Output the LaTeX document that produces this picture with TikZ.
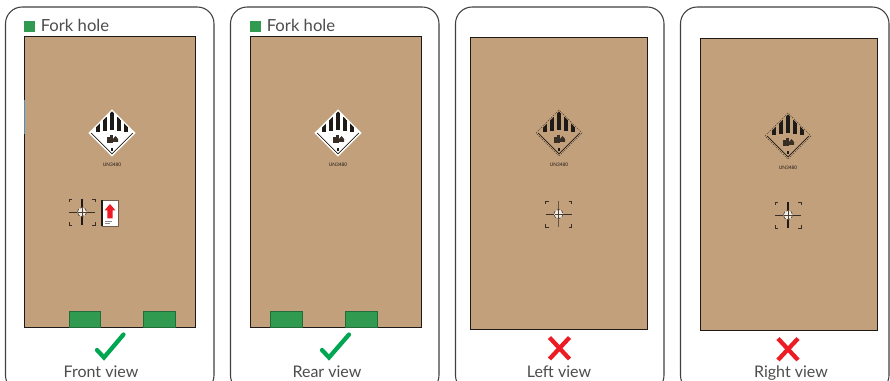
\documentclass[tikz,border=0pt]{standalone}
\usepackage{fontspec}
\setmainfont{Lato}
\definecolor{tan}{HTML}{C2A07B}
\definecolor{fork}{HTML}{2F9A50}
\definecolor{okgreen}{HTML}{00A651}
\definecolor{nored}{HTML}{ED1C24}
\definecolor{txt}{HTML}{4D4D4D}
\definecolor{ink}{HTML}{1E1A17}
\definecolor{edgeblue}{HTML}{4A90C8}
\tikzset{
  x=0.75pt,y=-0.75pt,
  card/.style={draw=black!75,line width=0.8pt,rounded corners=12.5pt,fill=white},
  crate/.style={fill=tan,draw=ink,line width=0.7pt},
  forkhole/.style={fill=fork,draw=fork!70!black,line width=0.3pt},
  caption/.style={text=txt,font=\fontsize{12}{14}\selectfont,inner sep=0pt,anchor=base},
  legend/.style={text=txt,font=\fontsize{12.5}{14}\selectfont,inner sep=0pt,anchor=base west},
  tick/.style={draw=okgreen,line width=3.2pt,line cap=round,line join=miter},
  nope/.style={draw=nored,line width=3.2pt},
  reg/.style={draw=ink!85!tan,line width=0.7pt},
  unlabel/.style={text=ink,font=\fontsize{3.6}{4}\selectfont,inner sep=0pt},
  whitelabel/.style={fill=white,draw=white,line width=0.6pt},
  darklabel/.style={fill=tan,draw=ink!70!tan,line width=0.35pt,dash pattern=on 1pt off 0.8pt},
}
% #1 cx, #2 cy, #3 name, #4 style of the outer diamond
\newcommand{\hazardmark}[4]{%
  \begin{scope}[shift={(#1,#2)}]
    \path[#4] (-23,0) -- (0,-23) -- (23,0) -- (0,23) -- cycle;
    \begin{scope}
      \clip (-21.5,0) -- (0,-21.5) -- (21.5,0) -- (0,21.5) -- cycle;
      \fill[ink] (-15.8,-14) rectangle (-12.2,-1);
      \fill[ink] (-8.8,-16) rectangle (-5.2,-2);
      \fill[ink] (-1.9,-22) rectangle (1.9,-3);
      \fill[ink] (5.2,-16) rectangle (8.8,-2);
      \fill[ink] (12.2,-14) rectangle (15.8,-1);
    \end{scope}
    \fill[ink!85!tan] (-5.5,4) rectangle (-2.5,10);
    \fill[ink!85!tan] (-2,2.5) rectangle (0.5,10);
    \fill[ink!85!tan] (1,6) -- (3.5,3) -- (6,6) -- (6,9) -- (1,9) -- cycle;
    \fill[ink] (-0.9,15) rectangle (0.9,18);
    \draw[ink,line width=0.5pt] (-20.8,0) -- (0,20.8) -- (20.8,0);
    \node[unlabel] (#3) at (0,31.5) {UN3480};
  \end{scope}}
% #1 cx, #2 cy, #3 vertical colour
\newcommand{\regmark}[3]{%
  \begin{scope}[shift={(#1,#2)}]
    \draw[reg] (-13,-10) -- (-13,-13) -- (-10,-13) (10,-13) -- (13,-13) -- (13,-10)
      (13,10) -- (13,13) -- (10,13) (-10,13) -- (-13,13) -- (-13,10);
    \draw[reg] (-13,0) -- (13,0);
    \draw[draw=#3,line width=0.8pt] (0,-13) -- (0,13);
    \fill[white!80!tan] (0,0) circle (4.6);
    \draw[ink!70!tan,line width=0.5pt,dash pattern=on 2.4pt off 1.2pt] (0,0) circle (4.6);
    \draw[ink!70!tan,line width=0.5pt] (-4,0) -- (4,0) (0,-4) -- (0,4);
  \end{scope}}
\begin{document}
\begin{tikzpicture}
\clip (0,0) rectangle (890,381);
\fill[white] (0,0) rectangle (890,381);
% cards
\draw[card] (5.5,7) rectangle (214,392);
\draw[card] (230.5,7) rectangle (439,392);
\draw[card] (455.5,7) rectangle (664,392);
\draw[card] (680.5,7) rectangle (889,392);
% crates
\draw[crate] (24.5,36) rectangle (195.5,327);
\draw[crate] (250.5,36.5) rectangle (421,327);
\draw[crate] (470.5,37) rectangle (647,329);
\draw[crate] (700,38.5) rectangle (877,330);
\draw[draw=edgeblue,line width=1pt] (24.5,100) -- (24.5,134);
% fork holes
\draw[forkhole] (69,311) rectangle (100,327);
\draw[forkhole] (143,311) rectangle (175,327);
\draw[forkhole] (270.5,311) rectangle (302,327);
\draw[forkhole] (345,311) rectangle (377,327);
% legends
\fill[fork] (24,21) rectangle (35,32);
\fill[fork] (250,21) rectangle (261,32);
\node[legend] (legendA) at (40.5,31.8) {Fork hole};
\node[legend] (legendB) at (266.5,31.8) {Fork hole};
% hazard labels
\hazardmark{112}{133}{unA}{whitelabel}
\hazardmark{338}{133}{unB}{whitelabel}
\hazardmark{559}{133}{unC}{darklabel}
\hazardmark{788}{136}{unD}{darklabel}
% registration marks
\regmark{82}{212}{ink}
\regmark{558.5}{214}{ink!55!tan}
\regmark{788}{215}{ink}
% arrow sticker
\draw[draw=ink!50!tan,fill=white,line width=0.6pt] (102,200.5) rectangle (118,226.5);
\draw[ink,line width=0.8pt] (102,200.5) -- (102,226.5);
\fill[nored] (110,204) -- (115.5,210.5) -- (112.7,210.5) -- (112.7,218.5) -- (107.3,218.5) -- (107.3,210.5) -- (104.5,210.5) -- cycle;
\draw[black!45,line width=0.3pt] (104.5,221.5) -- (112,221.5) (104.5,223.5) -- (110,223.5);
% verdict marks
\draw[tick] (97,350) -- (104,357.5) -- (123.5,334.5);
\draw[tick] (322,350) -- (329,357.5) -- (349,334.5);
\draw[nope] (549.5,337.5) -- (569.5,359) (569.5,337.5) -- (549.5,359);
\draw[nope] (778,338.5) -- (798,360) (798,338.5) -- (778,360);
% captions
\node[caption] (capA) at (101,377.5) {Front view};
\node[caption] (capB) at (327,377.5) {Rear view};
\node[caption] (capC) at (559,377.5) {Left view};
\node[caption] (capD) at (791,377.5) {Right view};
\end{tikzpicture}
\end{document}
